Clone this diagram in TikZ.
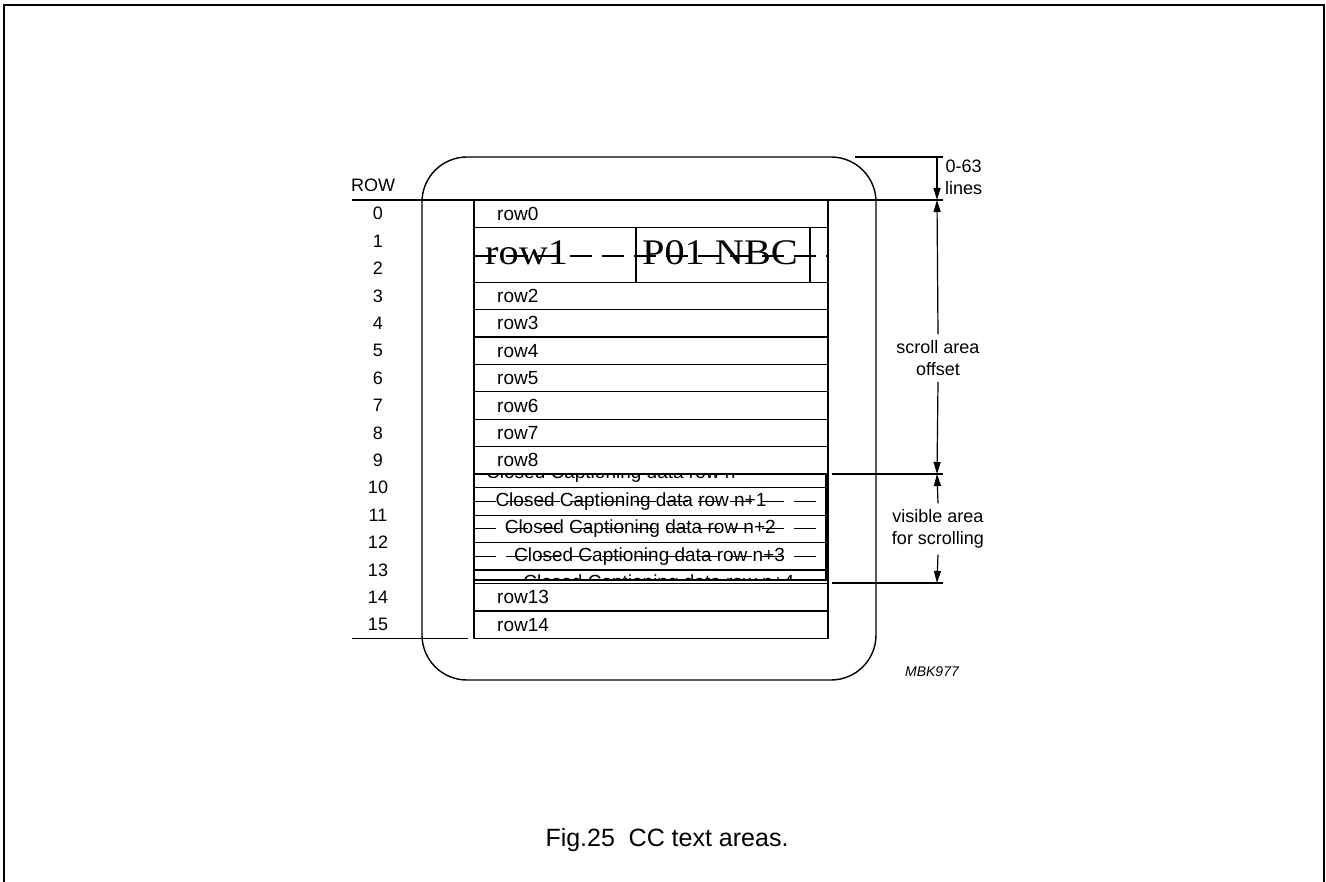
\documentclass[tikz,border=0pt]{standalone}
\usepackage{fontspec}
\setmainfont{Liberation Sans}
\newfontfamily\serifbig{Liberation Serif}
\usetikzlibrary{arrows.meta}

\begin{document}
\begin{tikzpicture}[x=1pt,y=-1pt,
    lbl/.style={font=\fontsize{18}{22}\selectfont, inner sep=0pt, align=center},
    rowtxt/.style={font=\fontsize{19}{22}\selectfont, inner sep=0pt, anchor=west},
    bigtxt/.style={font=\serifbig\fontsize{36}{40}\selectfont, inner sep=0pt, anchor=west, xscale=1.12},
    dimarrow/.style={-{Triangle[length=12pt,width=7pt]}},
    scrolldash/.style={dash pattern=on 22pt off 10pt}
  ]
  \useasboundingbox (0,0) rectangle (1326,882);

  % Frame
  \draw[line width=2pt] (4,882) -- (4,5) -- (1324,5) -- (1324,882);

  % Screen
  \draw[line width=1.4pt, rounded corners=45pt] (422,157) rectangle (876,680);

  % Row numbers
  \node[lbl] (rowhead) at (373,185) {ROW};
  \foreach \i in {0,...,15}
    \node[lbl] (num\i) at (378,{213.7+27.4*\i}) {\i};
  \draw[line width=1.2pt] (352,200) -- (943,200);
  \draw[line width=1.2pt] (352,638.4) -- (468,638.4);

  % Text rows
  \draw[line width=1.2pt] (474,200) rectangle (828,638.4);
  \foreach \k in {1,3,4,5,6,7,8,9,10,14,15}
    \draw[line width=1.2pt] (474,{200+27.4*\k}) -- (828,{200+27.4*\k});
  \node[rowtxt] (row0) at (497,213.7) {row0};
  \foreach \k/\r in {3/2,4/3,5/4,6/5,7/6,8/7,9/8,14/13,15/14}
    \node[rowtxt] (row\r) at (497,{213.7+27.4*\k}) {row\r};

  % Double height row
  \draw[line width=1.2pt, scrolldash] (474,256) -- (828,256);
  \node[bigtxt] (row1) at (485,253) {row1};
  \draw[line width=1.2pt] (636,227.4) rectangle (810,282.2);
  \node[bigtxt, anchor=center] (logo) at (720,253) {P01 NBC};

  % Closed captioning window
  \begin{scope}
    \clip (474,474) rectangle (826,580);
    \foreach \j in {1,2,3}
      \draw[line width=1.2pt, scrolldash] (474,{474+27.4*\j}) -- (826,{474+27.4*\j});
    \foreach \j/\s in {0/n,1/n+1,2/n+2,3/n+3,4/n+4}
      \node[rowtxt] (cc\j) at ({486+9.3*\j},{474+27.4*\j}) {Closed Captioning data row \s};
    \foreach \j in {0,...,3}
      \draw[line width=1.2pt] (474,{487.7+27.4*\j}) -- (826,{487.7+27.4*\j});
  \end{scope}
  \draw[line width=2pt] (474,474) rectangle (826,580);

  % Dimensions
  \coordinate (toptick) at (937,157);
  \coordinate (rowtop) at (937,200);
  \coordinate (visitop) at (937,474);
  \coordinate (visibot) at (937,583);
  \draw[line width=1.2pt] (855,157) -- (943,157);
  \draw[line width=1.2pt] (832,474) -- (943,474);
  \draw[line width=1.2pt] (832,583) -- (943,583);
  \draw[line width=1.2pt, dimarrow] (toptick) -- (rowtop);
  \node[lbl, anchor=west] (lines) at (945,177) {0-63\\lines};
  \node[lbl] (scroll) at (938,358) {scroll area\\offset};
  \draw[line width=1.2pt, dimarrow] (scroll.north) ++(0,-6) -- (rowtop);
  \draw[line width=1.2pt, dimarrow] (scroll.south) ++(0,6) -- (visitop);
  \node[lbl] (visible) at (938,529) {visible area\\for scrolling};
  \draw[line width=1.2pt, dimarrow] (visible.north) ++(0,-6) -- (visitop);
  \draw[line width=1.2pt, dimarrow] (visible.south) ++(0,6) -- (visibot);

  % Labels
  \node[font=\itshape\fontsize{14}{16}\selectfont, inner sep=0pt] (code) at (932,672) {MBK977};
  \node[font=\fontsize{25}{28}\selectfont, inner sep=0pt] (caption) at (667,840) {Fig.25\hspace{0.55em}CC text areas.};
\end{tikzpicture}
\end{document}
